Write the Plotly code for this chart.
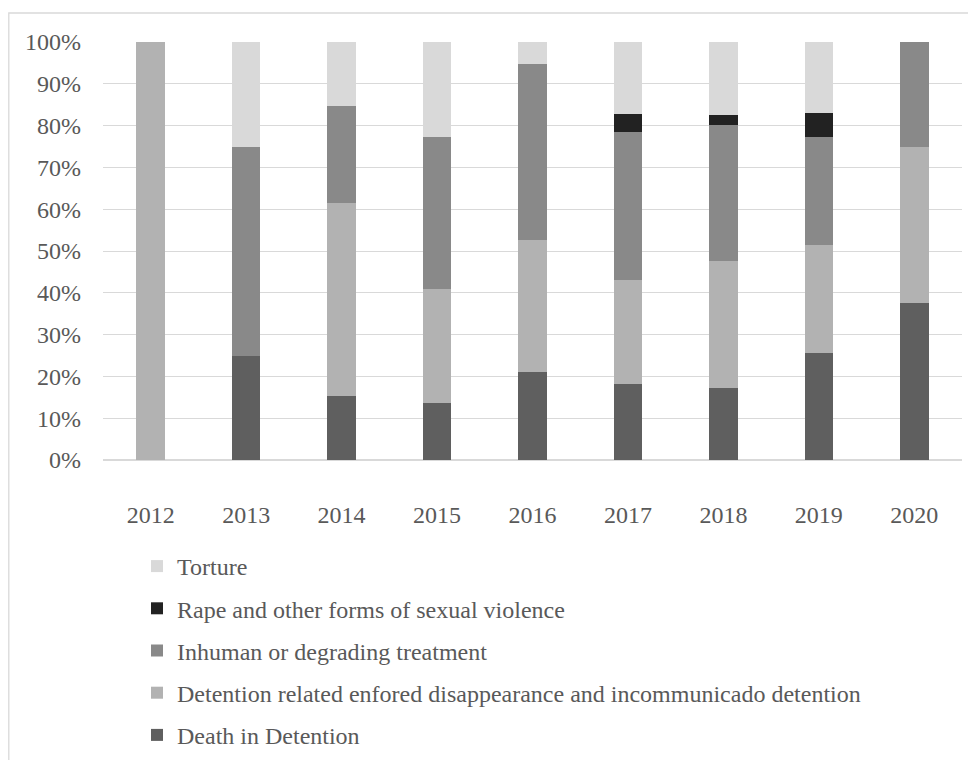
import plotly.graph_objects as go

years = ["2012", "2013", "2014", "2015", "2016", "2017", "2018", "2019", "2020"]
death = [0, 25, 15.4, 13.6, 21.1, 18.2, 17.3, 25.7, 37.5]
detention = [100, 0, 46.2, 27.3, 31.6, 24.9, 30.2, 25.8, 37.5]
inhuman = [0, 50, 23.1, 36.4, 42.1, 35.4, 32.6, 25.7, 25]
rape = [0, 0, 0, 0, 0, 4.3, 2.5, 5.8, 0]
torture = [0, 25, 15.4, 22.7, 5.3, 17.2, 17.4, 17.0, 0]

series = [
    ("Death in Detention", death, "#5f5f5f"),
    ("Detention related enfored disappearance and incommunicado detention", detention, "#b2b2b2"),
    ("Inhuman or degrading treatment", inhuman, "#898989"),
    ("Rape and other forms of sexual violence", rape, "#222222"),
    ("Torture", torture, "#d9d9d9"),
]

FONT = "Liberation Serif"
TXT = "#595959"
FS = 24

# plot area in figure pixels (page is offset by 8px body margin)
L, R, T, B = 95, 954, 34, 452
PW, PH = R - L, B - T

fig = go.Figure()
n = len(series)
for i, (name, vals, col) in enumerate(series):
    fig.add_trace(go.Bar(x=years, y=vals, name=name, marker=dict(color=col, line=dict(width=0)),
                         legendgroup=f"g{i}", legendrank=n - i))

fig.update_layout(
    width=976, height=760,
    barmode="stack", bargap=0.70,
    paper_bgcolor="white", plot_bgcolor="white",
    margin=dict(l=L, r=976 - R, t=T, b=760 - B, autoexpand=False),
    font=dict(family=FONT, size=FS, color=TXT),
    showlegend=True,
    legend=dict(
        orientation="v", traceorder="grouped", tracegroupgap=8,
        x=(129 - L) / PW, xanchor="left",
        y=(B - 536) / PH, yanchor="top",
        font=dict(family=FONT, size=FS, color=TXT),
        bgcolor="rgba(0,0,0,0)",
    ),
    xaxis=dict(showgrid=False, showline=False, ticks="", ticklabelstandoff=38,
               tickfont=dict(family=FONT, size=FS, color=TXT)),
    yaxis=dict(range=[0, 100], dtick=10, ticksuffix="%", showgrid=True, gridcolor="#d9d9d9",
               gridwidth=1.3, zeroline=True, zerolinecolor="#d9d9d9", zerolinewidth=1.5,
               showline=False, ticks="", ticklabelstandoff=21,
               tickfont=dict(family=FONT, size=FS, color=TXT)),
    shapes=[dict(type="rect", xref="paper", yref="paper",
                 x0=(0.8 - L) / PW, x1=1.2, y0=-1.0, y1=(B - 5) / PH,
                 line=dict(color="#d9d9d9", width=1.3), fillcolor="rgba(0,0,0,0)", layer="below")],
)

fig.write_html("out.html")
